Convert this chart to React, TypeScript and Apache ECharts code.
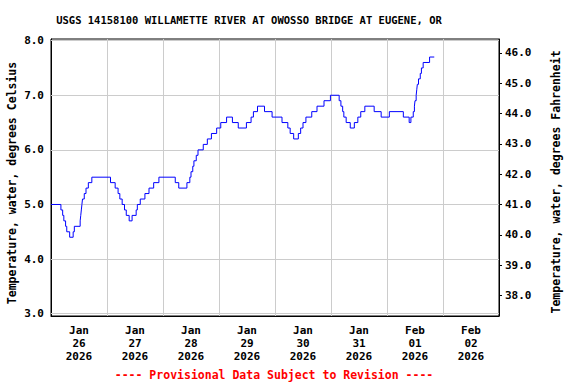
import React, { useEffect, useRef } from "react";
import * as echarts from "echarts";

// Hours since 2026-01-26 00:00 at which a new reading level starts
const hours = [
  0, 4.25, 5.0, 5.5, 6.25, 6.75, 8.0, 9.5, 10.0, 12.5, 12.75, 13.0, 13.25, 13.5, 14.25, 15.0, 16.0, 17.5,
  25.5, 27.5, 28.75, 29.5, 30.5, 31.5, 32.25, 33.5, 34.75, 36.5, 37.0, 38.25, 40.25, 42.0, 44.0, 46.25,
  53.25, 54.75, 58.25, 59.5, 60.0, 60.75, 61.25, 62.25, 63.0, 65.25, 67.0, 68.75, 71.0, 72.75, 75.25,
  77.75, 80.25, 83.75, 85.75, 86.75, 88.5, 91.5, 94.75, 99.0, 101.5, 102.5, 104.0, 106.0, 107.0, 108.0,
  109.25, 111.75, 114.0, 117.0, 119.75, 123.5, 124.25, 125.0, 125.5, 126.5, 128.25, 130.0, 131.5, 132.75,
  134.5, 138.5, 141.5, 145.0, 151.0, 153.5, 154.25, 155.25, 155.75, 156.0, 156.5, 156.75, 157.0, 157.5,
  158.25, 158.75, 159.5, 162.25, 164.25,
];
const tempC = [
  5.0, 4.9, 4.8, 4.7, 4.6, 4.5, 4.4, 4.5, 4.6, 4.7, 4.8, 4.9, 5.0, 5.1, 5.2, 5.3, 5.4, 5.5,
  5.4, 5.3, 5.2, 5.1, 5.0, 4.9, 4.8, 4.7, 4.8, 4.9, 5.0, 5.1, 5.2, 5.3, 5.4, 5.5,
  5.4, 5.3, 5.4, 5.5, 5.6, 5.7, 5.8, 5.9, 6.0, 6.1, 6.2, 6.3, 6.4, 6.5, 6.6,
  6.5, 6.4, 6.5, 6.6, 6.7, 6.8, 6.7, 6.6, 6.5, 6.4, 6.3, 6.2, 6.3, 6.4, 6.5,
  6.6, 6.7, 6.8, 6.9, 7.0, 6.9, 6.8, 6.7, 6.6, 6.5, 6.4, 6.5, 6.6, 6.7,
  6.8, 6.7, 6.6, 6.7, 6.6, 6.5, 6.6, 6.7, 6.8, 6.9, 7.0, 7.1, 7.2, 7.3,
  7.4, 7.5, 7.6, 7.7, 7.7,
];

const xLabelHours = [12, 36, 60, 84, 108, 132, 156, 180];
const xTickLabels = [
  "Jan\n26\n2026", "Jan\n27\n2026", "Jan\n28\n2026", "Jan\n29\n2026",
  "Jan\n30\n2026", "Jan\n31\n2026", "Feb\n01\n2026", "Feb\n02\n2026",
];
const xGridHours = [24, 48, 72, 96, 120, 144, 168];
const celsiusTicks = [3, 4, 5, 6, 7, 8];
const fahrenheitTicks = [38, 39, 40, 41, 42, 43, 44, 45, 46];

const title = "USGS 14158100 WILLAMETTE RIVER AT OWOSSO BRIDGE AT EUGENE, OR";
const leftName = "Temperature, water, degrees Celsius";
const rightName = "Temperature, water, degrees Fahrenheit";
const footer = "---- Provisional Data Subject to Revision ----";

const C_MIN = 2.958;
const C_MAX = 8.03;
const FONT = "'DejaVu Sans Mono', monospace";

export default function App() {
  const ref = useRef<HTMLDivElement>(null);
  useEffect(() => {
    if (!ref.current) return;
    const chart = echarts.init(ref.current, null, { renderer: "svg" });
    const data = hours.map((h, i) => [h, tempC[i]]);
    const gridMarks = [
      ...xGridHours.map((h) => ({ xAxis: h })),
      ...celsiusTicks.map((c) => ({ yAxis: c })),
    ];
    chart.setOption({
      animation: false,
      backgroundColor: "#fff",
      grid: {
        left: 51,
        right: 77,
        top: 39,
        bottom: 68,
        show: true,
        borderColor: "#000",
        borderWidth: 1,
        containLabel: false,
        outerBoundsMode: "none",
      },
      xAxis: {
        type: "value",
        min: 0,
        max: 192,
        axisLine: { show: true, lineStyle: { color: "#000", width: 1 } },
        axisTick: { show: false },
        splitLine: { show: false },
        axisLabel: {
          customValues: xLabelHours,
          formatter: (v: number) => xTickLabels[Math.round((v - 12) / 24)] ?? "",
          color: "#000",
          fontFamily: FONT,
          fontWeight: "bold",
          fontSize: 11,
          lineHeight: 13,
          margin: 8,
        },
      },
      yAxis: [
        {
          type: "value",
          position: "left",
          min: C_MIN,
          max: C_MAX,
          axisLine: { show: true, lineStyle: { color: "#000", width: 1 } },
          axisTick: { show: false },
          splitLine: { show: false },
          axisLabel: {
            customValues: celsiusTicks,
            formatter: (v: number) => v.toFixed(1),
            color: "#000",
            fontFamily: FONT,
            fontWeight: "bold",
            fontSize: 11,
            margin: 7,
          },
        },
        {
          type: "value",
          position: "right",
          min: C_MIN * 1.8 + 32,
          max: C_MAX * 1.8 + 32,
          axisLine: { show: true, lineStyle: { color: "#000", width: 1 } },
          axisTick: { show: true, inside: false, length: 3, customValues: fahrenheitTicks, lineStyle: { color: "#000" } },
          splitLine: { show: false },
          axisLabel: {
            customValues: fahrenheitTicks,
            formatter: (v: number) => v.toFixed(1),
            color: "#000",
            fontFamily: FONT,
            fontWeight: "bold",
            fontSize: 11,
            margin: 6,
          },
        },
      ],
      series: [
        {
          type: "line",
          yAxisIndex: 0,
          data,
          showSymbol: false,
          symbol: "none",
          lineStyle: { opacity: 0 },
          silent: true,
          z: 1,
          markLine: {
            silent: true,
            symbol: ["none", "none"],
            label: { show: false },
            lineStyle: { color: "#cccccc", width: 1, type: "solid" },
            z: 1,
            data: gridMarks,
          },
        },
        {
          type: "line",
          yAxisIndex: 0,
          data,
          step: "end",
          showSymbol: false,
          symbol: "none",
          lineStyle: { color: "#0000ff", width: 1 },
          z: 5,
        },
      ],
      graphic: [
        {
          type: "text",
          x: 249,
          y: 20,
          style: {
            text: title,
            fill: "#000",
            font: `bold 10.5px ${FONT}`,
            textAlign: "center",
            textVerticalAlign: "middle",
          },
        },
        {
          type: "text",
          x: 12,
          y: 183,
          rotation: Math.PI / 2,
          style: {
            text: leftName,
            fill: "#000",
            font: `bold 11.5px ${FONT}`,
            textAlign: "center",
            textVerticalAlign: "middle",
          },
        },
        {
          type: "text",
          x: 556,
          y: 182,
          rotation: Math.PI / 2,
          style: {
            text: rightName,
            fill: "#000",
            font: `bold 11.5px ${FONT}`,
            textAlign: "center",
            textVerticalAlign: "middle",
          },
        },
        {
          type: "text",
          x: 274,
          y: 375,
          style: {
            text: footer,
            fill: "#ff0000",
            font: `bold 11.5px ${FONT}`,
            textAlign: "center",
            textVerticalAlign: "middle",
          },
        },
      ],
    });
    return () => chart.dispose();
  }, []);
  return (
    <div
      ref={ref}
      style={{ position: "fixed", left: 0, top: 0, width: 576, height: 384 }}
    />
  );
}
